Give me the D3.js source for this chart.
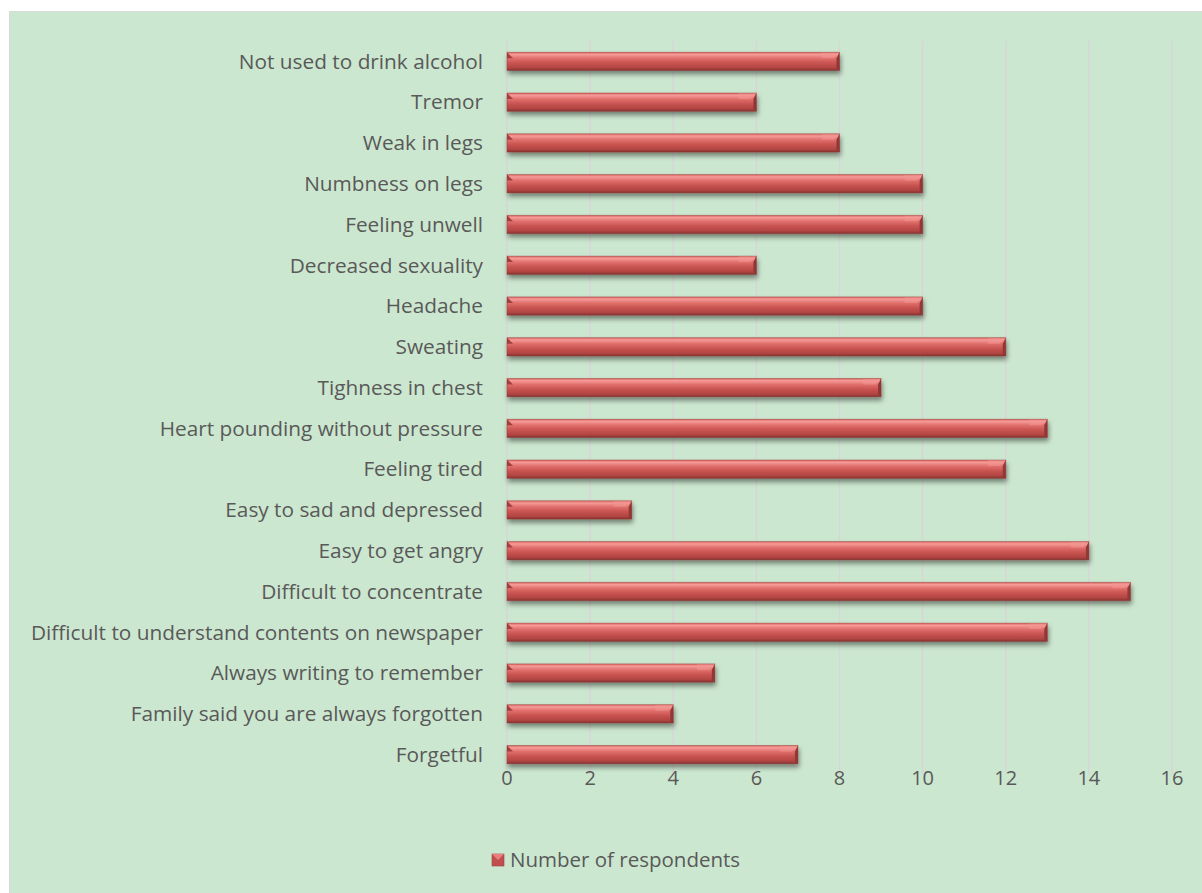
<!DOCTYPE html>
<html>
<head>
<meta charset="utf-8">
<script src="https://cdn.jsdelivr.net/npm/d3@7"></script>
<style>
  body { margin: 0; background: #fff; }
  text { font-family: "Open Sans", "Noto Sans", sans-serif; fill: #595959; }
</style>
</head>
<body>
<script>
// symptom categories, top to bottom
var categories = [
    "Not used to drink alcohol", "Tremor", "Weak in legs", "Numbness on legs",
    "Feeling unwell", "Decreased sexuality", "Headache", "Sweating",
    "Tighness in chest", "Heart pounding without pressure", "Feeling tired",
    "Easy to sad and depressed", "Easy to get angry", "Difficult to concentrate",
    "Difficult to understand contents on newspaper", "Always writing to remember",
    "Family said you are always forgotten", "Forgetful"
];
var respondents = [8, 6, 8, 10, 10, 6, 10, 12, 9, 13, 12, 3, 14, 15, 13, 5, 4, 7];
var xTicks = [0, 2, 4, 6, 8, 10, 12, 14, 16];
var seriesName = "Number of respondents";

var W = 1202, H = 893;
var svg = d3.select("body").append("svg")
    .attr("width", W)
    .attr("height", H);

var defs = svg.append("defs");
var grad = defs.append("linearGradient")
    .attr("id", "barGrad")
    .attr("x1", 0).attr("y1", 0).attr("x2", 0).attr("y2", 1);
grad.append("stop").attr("offset", "0%").attr("stop-color", "#d95f5c");
grad.append("stop").attr("offset", "12%").attr("stop-color", "#f59c99");
grad.append("stop").attr("offset", "32%").attr("stop-color", "#e2716e");
grad.append("stop").attr("offset", "58%").attr("stop-color", "#c95451");
grad.append("stop").attr("offset", "85%").attr("stop-color", "#b14542");
grad.append("stop").attr("offset", "100%").attr("stop-color", "#853230");

var shadow = defs.append("filter").attr("id", "shadow")
    .attr("x", "-5%").attr("y", "-40%").attr("width", "110%").attr("height", "200%");
shadow.append("feDropShadow")
    .attr("dx", 1).attr("dy", 3.5).attr("stdDeviation", 2.5)
    .attr("flood-color", "#000").attr("flood-opacity", 0.45);

// chart area
svg.append("rect")
    .attr("x", 9.5).attr("y", 11.5)
    .attr("width", W).attr("height", H)
    .attr("fill", "#cce7cf")
    .attr("stroke", "#d9d9d9");

var x = d3.scaleLinear().domain([0, 16]).range([507, 1172]);
var y = d3.scaleBand().domain(categories).range([41, 775]).paddingInner(0.55).paddingOuter(0.275);

// gridlines
svg.selectAll(".grid")
    .data(xTicks)
    .enter().append("line")
    .attr("class", "grid")
    .attr("x1", function(d) { return x(d); })
    .attr("x2", function(d) { return x(d); })
    .attr("y1", 41).attr("y2", 775)
    .attr("stroke", "#d6d6d6")
    .attr("stroke-width", 1.5);

// x-axis tick labels
svg.selectAll(".xtick")
    .data(xTicks)
    .enter().append("text")
    .attr("class", "xtick")
    .attr("x", function(d) { return x(d); })
    .attr("y", 778)
    .attr("dy", "0.35em")
    .attr("text-anchor", "middle")
    .style("font-size", "20px")
    .text(function(d) { return d; });

// category labels
svg.selectAll(".ylabel")
    .data(categories)
    .enter().append("text")
    .attr("class", "ylabel")
    .attr("x", 483)
    .attr("y", function(d) { return y(d) + y.bandwidth() / 2; })
    .attr("dy", "0.35em")
    .attr("text-anchor", "end")
    .style("font-size", "20.8px")
    .text(function(d) { return d; });

// bars
var bars = svg.selectAll(".bar")
    .data(categories)
    .enter().append("g")
    .attr("class", "bar")
    .attr("filter", "url(#shadow)");

bars.append("rect")
    .attr("x", x(0))
    .attr("y", function(d) { return y(d); })
    .attr("width", function(d, i) { return x(respondents[i]) - x(0); })
    .attr("height", y.bandwidth())
    .attr("fill", "url(#barGrad)");

// bevelled right end
var bev = 6;
bars.append("path")
    .attr("d", function(d, i) {
        var x1 = x(respondents[i]), y0 = y(d), y1 = y(d) + y.bandwidth();
        return "M" + x1 + "," + y0 + "L" + x1 + "," + y1 + "L" + (x1 - 3) + "," + (y1 - 2) +
            "L" + (x1 - 3) + "," + (y0 + bev) + "Z";
    })
    .attr("fill", "#8f3735");
bars.append("path")
    .attr("d", function(d, i) {
        var x1 = x(respondents[i]), y0 = y(d);
        return "M" + x1 + "," + y0 + "L" + (x1 - bev) + "," + (y0 + bev) + "L" + (x1 - 3 * bev) + "," + (y0 + bev) + "L" + (x1 - 3 * bev) + "," + y0 + "Z";
    })
    .attr("fill", "#f29592")
    .attr("opacity", 0.55);
// bevelled left end
bars.append("path")
    .attr("d", function(d) {
        var x0 = x(0), y0 = y(d);
        return "M" + x0 + "," + y0 + "L" + (x0 + bev) + "," + (y0 + bev) + "L" + x0 + "," + (y0 + bev) + "Z";
    })
    .attr("fill", "#a13f3d");
bars.append("rect")
    .attr("x", x(0))
    .attr("y", function(d) { return y(d); })
    .attr("width", function(d, i) { return x(respondents[i]) - x(0); })
    .attr("height", y.bandwidth())
    .attr("fill", "none")
    .attr("stroke", "#8c3533")
    .attr("stroke-opacity", 0.45)
    .attr("stroke-width", 0.8);

// legend
var legend = svg.append("g").attr("transform", "translate(492,854)");
legend.append("rect")
    .attr("width", 12).attr("height", 12)
    .attr("fill", "#c0504d")
    .attr("stroke", "#9e3f3c").attr("stroke-width", 0.6);
legend.append("path")
    .attr("d", "M0,0L6,6L12,0Z")
    .attr("fill", "#e8807d");
legend.append("text")
    .attr("x", 18).attr("y", 6)
    .attr("dy", "0.35em")
    .style("font-size", "20.5px")
    .text(seriesName);
</script>
</body>
</html>
